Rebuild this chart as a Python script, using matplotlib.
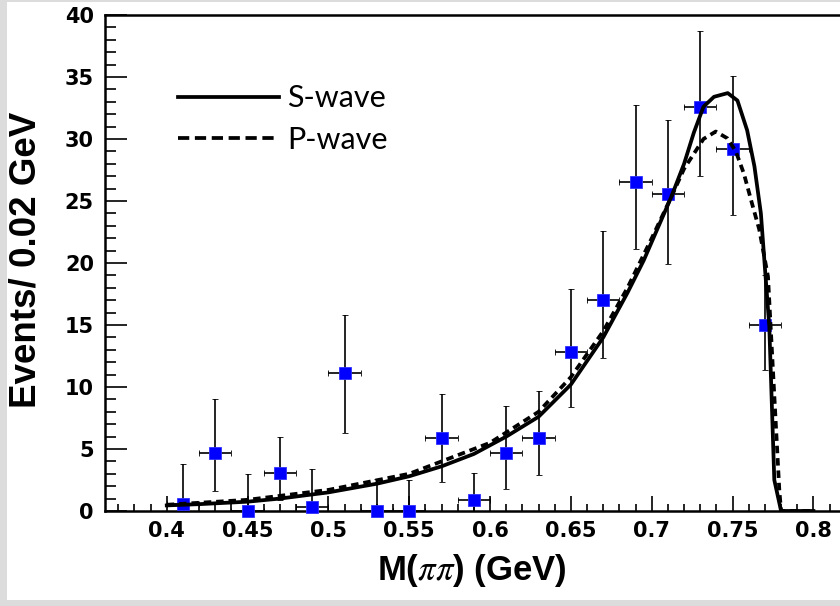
import matplotlib
matplotlib.use("Agg")
import numpy as np
import matplotlib.pyplot as plt
from matplotlib.patches import Rectangle
from matplotlib.ticker import MultipleLocator, FuncFormatter

# -------- DATA --------
bin_x = [0.41, 0.43, 0.45, 0.47, 0.49, 0.51, 0.53, 0.55, 0.57, 0.59,
         0.61, 0.63, 0.65, 0.67, 0.69, 0.71, 0.73, 0.75, 0.77]
events = [0.6, 4.7, 0.0, 3.1, 0.35, 11.1, 0.0, 0.0, 5.9, 0.9,
          4.7, 5.9, 12.8, 17.0, 26.5, 25.6, 32.6, 29.2, 15.0]
err_low = [0.0, 1.6, 0.0, 0.9, 0.0, 6.3, 0.0, 0.0, 2.3, 0.0,
           1.8, 2.9, 8.4, 12.3, 21.1, 19.9, 27.0, 23.9, 11.4]
err_high = [3.8, 9.0, 3.0, 6.0, 3.4, 15.8, 2.6, 2.5, 9.4, 3.1,
            8.5, 9.7, 17.9, 22.6, 32.7, 31.5, 38.7, 35.1, 19.0]
bin_half = 0.01

s_x = [0.400, 0.420, 0.450, 0.470, 0.500, 0.530, 0.550, 0.570, 0.590, 0.610,
       0.630, 0.650, 0.670, 0.685, 0.695, 0.712, 0.720, 0.726, 0.732, 0.7385,
       0.747, 0.753, 0.759, 0.7635, 0.7675, 0.7700, 0.7727, 0.7758, 0.780, 0.800]
s_wave = [0.45, 0.55, 0.75, 1.0, 1.5, 2.2, 2.8, 3.6, 4.6, 6.0,
          7.6, 10.2, 14.0, 17.6, 20.2, 25.3, 28.0, 30.5, 32.6, 33.4,
          33.7, 33.1, 30.7, 27.8, 24.0, 19.6, 14.9, 2.5, 0.0, 0.0]

p_x = [0.400, 0.450, 0.500, 0.550, 0.600, 0.630, 0.650, 0.670, 0.685, 0.700,
       0.712, 0.720, 0.726, 0.732, 0.7396, 0.7468, 0.752, 0.757, 0.762, 0.7665,
       0.7719, 0.7789, 0.780, 0.800]
p_wave = [0.5, 0.9, 1.7, 3.0, 5.5, 8.0, 10.8, 14.5, 18.0, 22.0,
          25.3, 27.6, 28.8, 30.0, 30.6, 30.05, 29.0, 27.2, 24.8, 22.7,
          18.9, 1.7, 0.0, 0.0]

# -------- STYLE --------
plt.rcParams["mathtext.fontset"] = "stix"
tick_font = {"family": "DejaVu Sans", "weight": "bold", "size": 15}
xlabel_font = {"family": "Liberation Sans", "weight": "bold", "size": 25}
ylabel_font = {"family": "Liberation Sans", "weight": "bold", "size": 26.5}

fig = plt.figure(figsize=(8.4, 6.06), dpi=100)
fig.patch.set_facecolor("#dcdcdc")
fig.add_artist(Rectangle((0.0083, 0.0099), 1.0, 0.986, transform=fig.transFigure,
                         facecolor="white", edgecolor="none", zorder=0))

ax = fig.add_axes([0.125, 0.1568, 0.8857, 0.8185])
ax.set_facecolor("white")

# -------- DATA POINTS --------
y = np.array(events)
yerr = [y - np.array(err_low), np.array(err_high) - y]
eb = ax.errorbar(bin_x, events, xerr=bin_half, yerr=yerr, fmt="s", color="#0000ff",
                 mec="#3030ff", mew=0.6, ms=9.3, ecolor="black", elinewidth=1.2,
                 capsize=2.3, capthick=1.5, zorder=3)
eb[0].set_clip_on(False)

# -------- CURVES --------
l_s, = ax.plot(s_x, s_wave, color="black", lw=2.7, zorder=4, solid_joinstyle="round")
l_p, = ax.plot(p_x, p_wave, color="black", lw=2.7, dashes=(2.0, 1.3), zorder=4)

leg = ax.legend([l_s, l_p], ["S-wave", "P-wave"], loc="center left",
                bbox_to_anchor=(0.098, 0.79), frameon=False, borderpad=0,
                borderaxespad=0, handlelength=3.3, handletextpad=0.28,
                labelspacing=0.45, prop={"family": "Lato", "size": 22})
leg.get_lines()[1].set_dashes((3.0, 1.5))

# -------- AXES --------
ax.set_xlim(0.3618, 0.822)
ax.set_ylim(0, 40)
ax.xaxis.set_major_locator(MultipleLocator(0.05))
ax.xaxis.set_minor_locator(MultipleLocator(0.01))
ax.yaxis.set_major_locator(MultipleLocator(5))
ax.yaxis.set_minor_locator(MultipleLocator(1))
ax.xaxis.set_major_formatter(FuncFormatter(lambda v, p: "%g" % round(v, 3)))

ax.tick_params(axis="x", which="major", direction="in", length=10.8, width=1.2, pad=7)
ax.tick_params(axis="x", which="minor", direction="in", length=5.4, width=1.2)
ax.tick_params(axis="y", which="major", direction="in", length=15.8, width=1.2, pad=8)
ax.tick_params(axis="y", which="minor", direction="in", length=7.8, width=1.2)
for lab in ax.get_xticklabels() + ax.get_yticklabels():
    lab.set_fontproperties(tick_font)

for side in ["left", "bottom", "top", "right"]:
    ax.spines[side].set_linewidth(1.8)

ax.set_xlabel(r"M($\pi\pi$) (GeV)", fontdict=xlabel_font)
ax.set_ylabel("Events/ 0.02 GeV", fontdict=ylabel_font)
ax.xaxis.set_label_coords(0.493, -0.083)
ax.yaxis.set_label_coords(-0.082, 0.507)

fig.savefig("out.png", dpi=100, facecolor=fig.get_facecolor())
